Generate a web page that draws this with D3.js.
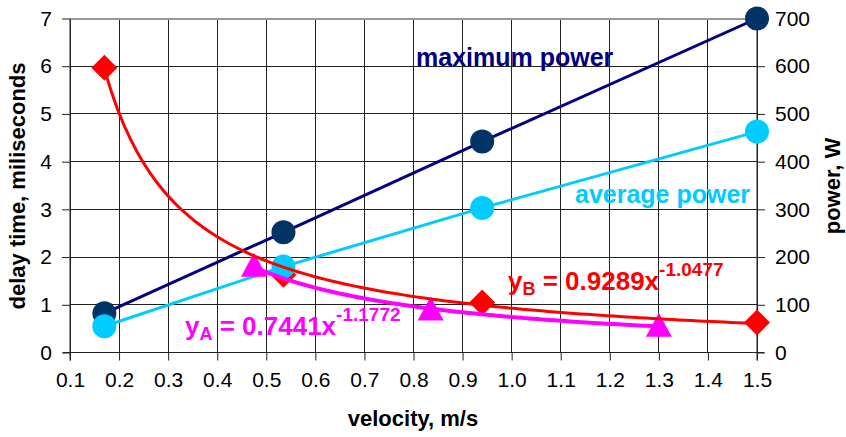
<!DOCTYPE html>
<html>
<head>
<meta charset="utf-8">
<script src="https://cdn.jsdelivr.net/npm/d3@7"></script>
<style>
  body { margin: 0; background: #fff; }
  text { font-family: "Liberation Sans", Arial, sans-serif; }
</style>
</head>
<body>
<div id="chart"></div>
<script>
// velocity, m/s
var velocity = [0.17, 0.535, 0.94, 1.5];
// power, W (right axis)
var maxPower = [82, 252, 442, 700];
var avgPower = [55, 180, 303, 463];
// delay time B, ms (diamonds)
var delayB = [5.97, 1.63, 1.05, 0.63];
// delay time A, ms (triangles)
var velocityA = [0.475, 0.835, 1.3];
var delayA = [1.82, 0.9, 0.56];
// power trendline coefficients y = a * x^b, as printed on the chart
var trendA = [0.7441, -1.1772];
var trendB = [0.9289, -1.0477];

var xTicks = d3.range(1, 16).map(d => d / 10);
var yLeftTicks = d3.range(0, 8);
var yRightTicks = d3.range(0, 800, 100);

var width = 846, height = 437;
var mLeft = 70, mRight = 757, mTop = 18.5, mBottom = 352.5;

var svg = d3.select("#chart").append("svg")
    .attr("width", width)
    .attr("height", height);

var x = d3.scaleLinear().domain([0.1, 1.5]).range([mLeft, mRight]);
var yL = d3.scaleLinear().domain([0, 7]).range([mBottom, mTop]);
var yR = d3.scaleLinear().domain([0, 700]).range([mBottom, mTop]);

// grid
var grid = svg.append("g").attr("shape-rendering", "crispEdges");
grid.selectAll("line.v")
    .data(xTicks)
    .enter().append("line")
    .attr("x1", d => x(d)).attr("x2", d => x(d))
    .attr("y1", mTop).attr("y2", mBottom)
    .attr("stroke", "#222").attr("stroke-width", 1);
grid.selectAll("line.h")
    .data(yLeftTicks)
    .enter().append("line")
    .attr("x1", mLeft).attr("x2", mRight)
    .attr("y1", d => yL(d)).attr("y2", d => yL(d))
    .attr("stroke", d => d == 7 ? "#999" : "#222").attr("stroke-width", d => d == 7 ? 2 : 1);

// axes
function styleAxis(g) {
  g.selectAll("path").attr("stroke", "#222");
  g.selectAll("line").attr("stroke", "#222");
  g.selectAll("text").attr("fill", "#000")
    .style("font-family", "'Liberation Sans', Arial, sans-serif")
    .style("font-size", "21px");
}

svg.append("g")
    .attr("transform", "translate(0," + mBottom + ")")
    .call(d3.axisBottom(x).tickValues(xTicks).tickFormat(d3.format(".1f")).tickSize(8).tickSizeOuter(0).tickPadding(12))
    .call(styleAxis)
    .select("path").attr("d", "M" + (mLeft - 7) + ",0H" + (mRight + 7));

svg.append("g")
    .attr("transform", "translate(" + mLeft + ",0)")
    .call(d3.axisLeft(yL).tickValues(yLeftTicks).tickFormat(d3.format("d")).tickSize(8).tickSizeOuter(0).tickPadding(10))
    .call(styleAxis)
    .select("path").attr("d", "M0," + mTop + "V" + (mBottom + 8));

svg.append("g")
    .attr("transform", "translate(" + mRight + ",0)")
    .call(d3.axisRight(yR).tickValues(yRightTicks).tickFormat(d3.format("d")).tickSize(8).tickSizeOuter(0).tickPadding(10))
    .call(styleAxis)
    .select("path").attr("d", "M0," + mTop + "V" + (mBottom + 8));

// axis titles
svg.append("text")
    .attr("transform", "translate(25,186) rotate(-90)")
    .attr("text-anchor", "middle")
    .style("font-size", "22px").style("font-weight", "bold")
    .text("delay time, miliseconds");
svg.append("text")
    .attr("transform", "translate(840,186) rotate(-90)")
    .attr("text-anchor", "middle")
    .style("font-size", "22px").style("font-weight", "bold")
    .text("power, W");
svg.append("text")
    .attr("x", 413).attr("y", 426)
    .attr("text-anchor", "middle")
    .style("font-size", "22px").style("font-weight", "bold")
    .text("velocity, m/s");

// power lines
var powerLine = d3.line().x(d => x(d[0])).y(d => yR(d[1]));
var maxData = d3.zip(velocity, maxPower);
var avgData = d3.zip(velocity, avgPower);

svg.append("path").datum(maxData)
    .attr("d", powerLine).attr("fill", "none")
    .attr("stroke", "#000080").attr("stroke-width", 3);
svg.append("path").datum(avgData)
    .attr("d", powerLine).attr("fill", "none")
    .attr("stroke", "#00ccff").attr("stroke-width", 3);

// delay B diamonds
var dataB = d3.zip(velocity, delayB);
svg.selectAll("path.diamond")
    .data(dataB)
    .enter().append("path")
    .attr("class", "diamond")
    .attr("transform", d => "translate(" + x(d[0]) + "," + yL(d[1]) + ")")
    .attr("d", "M0,-13L13,0L0,13L-13,0Z")
    .attr("fill", "#ff0000");

// circles
svg.selectAll("circle.max")
    .data(maxData)
    .enter().append("circle")
    .attr("class", "max")
    .attr("cx", d => x(d[0])).attr("cy", d => yR(d[1]))
    .attr("r", 12).attr("fill", "#003366");
svg.selectAll("circle.avg")
    .data(avgData)
    .enter().append("circle")
    .attr("class", "avg")
    .attr("cx", d => x(d[0])).attr("cy", d => yR(d[1]))
    .attr("r", 12).attr("fill", "#00ccff");

// delay A triangles
var dataA = d3.zip(velocityA, delayA);
svg.selectAll("path.tri")
    .data(dataA)
    .enter().append("path")
    .attr("class", "tri")
    .attr("transform", d => "translate(" + x(d[0]) + "," + yL(d[1]) + ")")
    .attr("d", "M0,-13L13,11L-13,11Z")
    .attr("fill", "#ff00ff");

// trendlines
function trend(c, x0, x1) {
  return d3.range(0, 101).map(i => {
    var v = x0 + (x1 - x0) * i / 100;
    return [v, c[0] * Math.pow(v, c[1])];
  });
}
var delayLine = d3.line().x(d => x(d[0])).y(d => yL(d[1]));
svg.append("path").datum(trend(trendB, d3.min(velocity), d3.max(velocity)))
    .attr("d", delayLine).attr("fill", "none")
    .attr("stroke", "#ff0000").attr("stroke-width", 3);
svg.append("path").datum(trend(trendA, d3.min(velocityA), d3.max(velocityA)))
    .attr("d", delayLine).attr("fill", "none")
    .attr("stroke", "#ff00ff").attr("stroke-width", 4);

// labels
function label(tx, ty, color, size, parts) {
  var t = svg.append("text").attr("x", tx).attr("y", ty)
      .attr("fill", color).style("font-weight", "bold").style("font-size", size + "px");
  parts.forEach(p => {
    var s = t.append("tspan").text(p[0]);
    if (p[1] == "sub") s.style("font-size", "18px").attr("dy", 5);
    if (p[1] == "back") s.attr("dy", -5);
    if (p[1] == "sup") s.style("font-size", "19px").attr("dy", -14);
  });
}
label(416, 66, "#000080", 25, [["maximum power"]]);
label(575, 203, "#00ccff", 25, [["average power"]]);
label(508, 290, "#ff0000", 26, [["y"], ["B", "sub"], [" = " + trendB[0] + "x", "back"], [String(trendB[1]), "sup"]]);
label(185, 335, "#ff00ff", 26, [["y"], ["A", "sub"], [" = " + trendA[0] + "x", "back"], [String(trendA[1]), "sup"]]);
</script>
</body>
</html>
